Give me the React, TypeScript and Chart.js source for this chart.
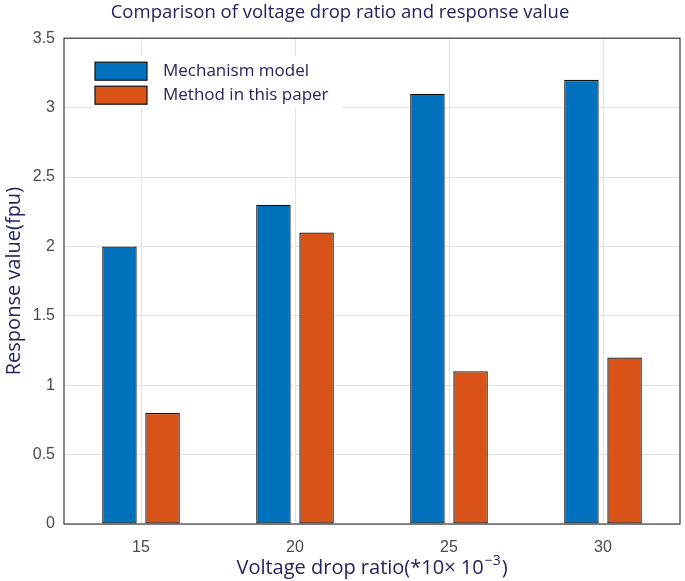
import React, { useEffect, useRef } from 'react'
import { Chart, registerables } from 'chart.js'

Chart.register(...registerables)

const categories = ['15', '20', '25', '30']
const mechanismModel = [2.0, 2.3, 3.1, 3.2]
const methodInPaper = [0.8, 2.1, 1.1, 1.2]
const seriesNames = ['Mechanism model', 'Method in this paper']

const NAVY = '#23235f'
const BLUE = '#0072BD'
const ORANGE = '#D95319'
const TITLE_FONT = '"Open Sans", "Noto Sans", sans-serif'

// MATLAB-style box, legend inside the axes and x label with superscript
const boxLegend = {
	id: 'boxLegend',
	afterDraw(chart: Chart) {
		const { ctx, chartArea } = chart
		const { left, right, top, bottom } = chartArea
		ctx.save()
		ctx.strokeStyle = '#3a3a3a'
		ctx.lineWidth = 1.2
		ctx.strokeRect(left, top, right - left, bottom - top)

		// legend box
		const lx = left + 28
		const ly = top + 18
		ctx.fillStyle = '#ffffff'
		ctx.fillRect(lx, ly, 250, 52)
		ctx.font = '17px ' + TITLE_FONT
		ctx.textBaseline = 'middle'
		chart.data.datasets.forEach((ds, i) => {
			const y = ly + 6 + i * 24
			ctx.fillStyle = ds.backgroundColor as string
			ctx.fillRect(lx + 3, y, 52, 18)
			ctx.strokeStyle = '#111'
			ctx.lineWidth = 1.2
			ctx.strokeRect(lx + 3, y, 52, 18)
			ctx.fillStyle = NAVY
			ctx.fillText(ds.label || '', lx + 71, y + 9)
		})

		// x axis title
		const main = 'Voltage drop ratio(*10× 10'
		const sup = '−3'
		const end = ')'
		ctx.font = '20px ' + TITLE_FONT
		const wMain = ctx.measureText(main).width
		const wEnd = ctx.measureText(end).width
		ctx.font = '14px ' + TITLE_FONT
		const wSup = ctx.measureText(sup).width
		let x = (left + right) / 2 - (wMain + wSup + wEnd + 2) / 2
		const yBase = 574
		ctx.textBaseline = 'alphabetic'
		ctx.textAlign = 'left'
		ctx.fillStyle = NAVY
		ctx.font = '20px ' + TITLE_FONT
		ctx.fillText(main, x, yBase)
		x += wMain + 1
		ctx.font = '14px ' + TITLE_FONT
		ctx.fillText(sup, x, yBase - 9)
		x += wSup + 1
		ctx.font = '20px ' + TITLE_FONT
		ctx.fillText(end, x, yBase)
		ctx.restore()
	},
}

const App: React.FC = () => {
	const chartRef = useRef<HTMLCanvasElement>(null)

	useEffect(() => {
		if (!chartRef.current) return
		const context = chartRef.current.getContext('2d')
		if (!context) return

		const barStyle = {
			borderColor: '#111',
			borderWidth: 1.3,
			borderSkipped: false as const,
			barPercentage: 0.8,
			categoryPercentage: 0.56,
		}

		const chart = new Chart(context, {
			type: 'bar',
			data: {
				labels: categories,
				datasets: [
					{ label: seriesNames[0], data: mechanismModel, backgroundColor: BLUE, ...barStyle },
					{ label: seriesNames[1], data: methodInPaper, backgroundColor: ORANGE, ...barStyle },
				],
			},
			options: {
				animation: false,
				responsive: false,
				layout: { padding: { left: 0, right: 5, top: 0, bottom: 0 } },
				plugins: {
					legend: { display: false },
					tooltip: { enabled: false },
					title: {
						display: true,
						text: 'Comparison of voltage drop ratio and response value',
						color: NAVY,
						font: { family: TITLE_FONT, size: 18.5, weight: 'normal' },
						padding: { top: 2, bottom: 14 },
					},
				},
				scales: {
					x: {
						grid: { color: '#e3e3e3', offset: false, drawTicks: false },
						border: { display: false },
						ticks: {
							color: '#4a4a4a',
							padding: 14,
							font: { family: '"Liberation Sans", Arial, sans-serif', size: 16 },
						},
						title: { display: false },
						afterFit: (s: any) => {
							s.height = 57
						},
					},
					y: {
						min: 0,
						max: 3.5,
						grid: { color: '#e3e3e3', drawTicks: false },
						border: { display: false },
						ticks: {
							stepSize: 0.5,
							color: '#4a4a4a',
							padding: 9,
							font: { family: '"Liberation Sans", Arial, sans-serif', size: 16 },
							callback: (v: any) => String(Number(v)),
						},
						title: {
							display: true,
							text: 'Response value(fpu)',
							color: NAVY,
							padding: { top: 2, bottom: 0 },
							font: { family: TITLE_FONT, size: 20 },
						},
						afterFit: (s: any) => {
							s.width = 64
						},
					},
				},
			},
			plugins: [boxLegend],
		})

		return () => {
			chart.destroy()
		}
	}, [])

	return (
		<div style={{ position: 'fixed', left: 0, top: 0, width: 685, height: 581, background: '#fff' }}>
			<canvas ref={chartRef} width={685} height={581} />
		</div>
	)
}

export default App
